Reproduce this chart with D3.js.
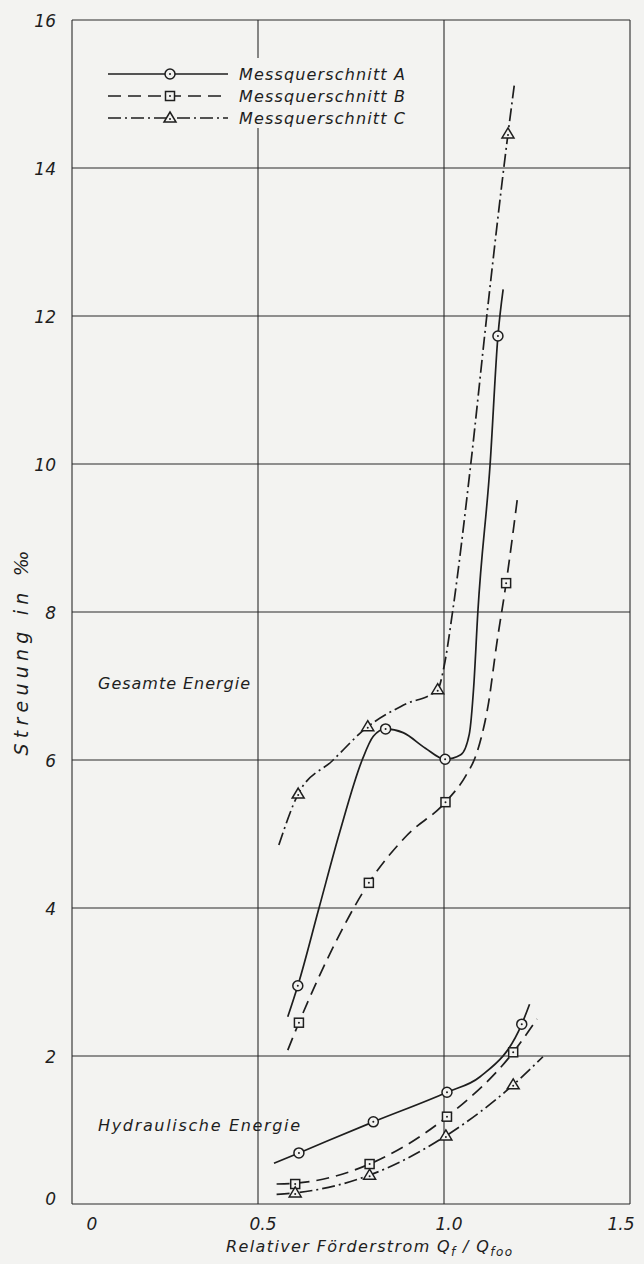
<!DOCTYPE html>
<html>
<head>
<meta charset="utf-8">
<script src="https://cdn.jsdelivr.net/npm/d3@7"></script>
<style>
  html, body { margin: 0; padding: 0; background: #f3f3f1; }
  svg { display: block; }
  text { font-family: "DejaVu Sans", "Liberation Sans", sans-serif; font-style: italic; fill: #1e1e1e; }
</style>
</head>
<body>
<div id="chart"></div>
<script>
// Streuung values (x = Q_f/Q_foo, y = Streuung in ‰)
const xTicks = [0, 0.5, 1.0, 1.5];
const xTickLabels = ["0", "0.5", "1.0", "1.5"];
const yTicks = [0, 2, 4, 6, 8, 10, 12, 14, 16];

// Gesamte Energie - measured points
const gesamtA = [[0.607, 2.95], [0.843, 6.42], [1.003, 6.01], [1.145, 11.73]];
const gesamtB = [[0.61, 2.45], [0.798, 4.34], [1.004, 5.43], [1.167, 8.39]];
const gesamtC = [[0.608, 5.54], [0.795, 6.45], [0.983, 6.95], [1.172, 14.46]];
// Gesamte Energie - traced curves
const gesamtALine = [[0.58, 2.53], [0.607, 2.95], [0.664, 4.0], [0.72, 5.03], [0.78, 6.0], [0.81, 6.32], [0.843, 6.42],
  [0.89, 6.37], [0.95, 6.16], [1.003, 6.01], [1.045, 6.07], [1.068, 6.35], [1.08, 7.0], [1.091, 8.0],
  [1.124, 10.0], [1.145, 11.73], [1.159, 12.36]];
const gesamtBLine = [[0.58, 2.08], [0.61, 2.45], [0.70, 3.45], [0.798, 4.34], [0.90, 4.98], [1.004, 5.43],
  [1.06, 5.80], [1.085, 6.05], [1.10, 6.3], [1.118, 6.72], [1.142, 7.58], [1.167, 8.39], [1.199, 9.6]];
const gesamtCLine = [[0.556, 4.85], [0.608, 5.54], [0.70, 5.99], [0.795, 6.45], [0.89, 6.74], [0.983, 6.95],
  [1.0, 7.26], [1.023, 8.0], [1.072, 10.0], [1.115, 12.0], [1.172, 14.46], [1.19, 15.16]];

// Hydraulische Energie - measured points
const hydA = [[0.61, 0.69], [0.81, 1.11], [1.008, 1.51], [1.209, 2.43]];
const hydB = [[0.60, 0.27], [0.80, 0.54], [1.008, 1.18], [1.186, 2.05]];
const hydC = [[0.60, 0.15], [0.80, 0.39], [1.005, 0.92], [1.186, 1.61]];
// Hydraulische Energie - traced curves
const hydALine = [[0.543, 0.55], [0.61, 0.69], [0.81, 1.11], [1.008, 1.51], [1.097, 1.72], [1.209, 2.43], [1.23, 2.7]];
const hydBLine = [[0.55, 0.27], [0.60, 0.28], [0.80, 0.54], [1.008, 1.18], [1.186, 2.05], [1.25, 2.5]];
const hydCLine = [[0.55, 0.13], [0.60, 0.15], [0.80, 0.39], [1.005, 0.92], [1.186, 1.61], [1.266, 1.99]];

const legendNames = ["Messquerschnitt A", "Messquerschnitt B", "Messquerschnitt C"];

const width = 644, height = 1264;
const bg = "#f3f3f1", ink = "#1e1e1e";

const svg = d3.select("#chart").append("svg")
    .attr("width", width)
    .attr("height", height);

svg.append("rect").attr("width", width).attr("height", height).attr("fill", bg);

const x = d3.scaleLinear().domain([0, 1.5]).range([72, 630]);
const y = d3.scaleLinear().domain([0, 16]).range([1204, 20]);

// grid
const grid = svg.append("g").attr("stroke", "#2a2a2a").attr("stroke-width", 1.1);
grid.selectAll("line.v").data(xTicks).join("line")
    .attr("x1", d => x(d)).attr("x2", d => x(d))
    .attr("y1", y(0)).attr("y2", y(16));
grid.selectAll("line.h").data(yTicks).join("line")
    .attr("x1", x(0)).attr("x2", x(1.5))
    .attr("y1", d => y(d)).attr("y2", d => y(d));

// tick labels
svg.append("g").selectAll("text").data(yTicks).join("text")
    .attr("x", 56)
    .attr("y", d => y(d) + (d === 0 ? -4 : 2))
    .attr("text-anchor", "end")
    .attr("dominant-baseline", "middle")
    .attr("font-size", 17)
    .text(d => d);

svg.append("g").selectAll("text").data(xTicks).join("text")
    .attr("x", (d, i) => x(d) + (i === 0 ? 20 : i === 3 ? -9 : 5))
    .attr("y", 1230)
    .attr("text-anchor", "middle")
    .attr("font-size", 17)
    .text((d, i) => xTickLabels[i]);

// axis titles
const xt = svg.append("text")
    .attr("x", 226)
    .attr("y", 1252)
    .attr("font-size", 16)
    .attr("textLength", 286)
    .attr("lengthAdjust", "spacing");
xt.append("tspan").text("Relativer Förderstrom  Q");
xt.append("tspan").attr("font-size", 12).attr("dy", 4).text("f");
xt.append("tspan").attr("dy", -4).text(" / Q");
xt.append("tspan").attr("font-size", 12).attr("dy", 4).text("foo");

svg.append("text")
    .attr("transform", "translate(28, 653) rotate(-90)")
    .attr("text-anchor", "middle")
    .attr("font-size", 19)
    .attr("textLength", 205)
    .attr("lengthAdjust", "spacing")
    .text("Streuung  in  ‰");

// area labels
svg.append("text").attr("x", 98).attr("y", 689).attr("font-size", 16)
    .attr("textLength", 152).attr("lengthAdjust", "spacing").text("Gesamte  Energie");
svg.append("text").attr("x", 98).attr("y", 1131).attr("font-size", 16)
    .attr("textLength", 202).attr("lengthAdjust", "spacing").text("Hydraulische  Energie");

// series styles
const dashes = [null, "13,7", "13,4,2,4"];

const line = d3.line()
    .x(d => x(d[0]))
    .y(d => y(d[1]))
    .curve(d3.curveMonotoneX);

const curves = [gesamtALine, gesamtBLine, gesamtCLine, hydALine, hydBLine, hydCLine];
const curveStyle = [0, 1, 2, 0, 1, 2];

svg.append("g").selectAll("path").data(curves).join("path")
    .attr("d", d => line(d))
    .attr("fill", "none")
    .attr("stroke", ink)
    .attr("stroke-width", 1.7)
    .attr("stroke-dasharray", (d, i) => dashes[curveStyle[i]]);

function drawMarker(g, kind, cx, cy) {
    if (kind === 0) {
        g.append("circle").attr("cx", cx).attr("cy", cy).attr("r", 5)
            .attr("fill", bg).attr("stroke", ink).attr("stroke-width", 1.5);
    } else if (kind === 1) {
        g.append("rect").attr("x", cx - 4.5).attr("y", cy - 4.5).attr("width", 9).attr("height", 9)
            .attr("fill", bg).attr("stroke", ink).attr("stroke-width", 1.5);
    } else {
        g.append("path")
            .attr("d", `M${cx},${cy - 6}L${cx + 6},${cy + 4}L${cx - 6},${cy + 4}Z`)
            .attr("fill", bg).attr("stroke", ink).attr("stroke-width", 1.5);
    }
    g.append("circle").attr("cx", cx).attr("cy", kind === 2 ? cy + 1 : cy).attr("r", 1).attr("fill", ink);
}

const markerSets = [gesamtA, gesamtB, gesamtC, hydA, hydB, hydC];
const mg = svg.append("g");
markerSets.forEach((pts, i) => {
    pts.forEach(p => drawMarker(mg, curveStyle[i], x(p[0]), y(p[1])));
});

// legend (the grid line at 0.5 is blanked out behind the text)
const legend = svg.append("g");
legend.append("rect").attr("x", 236).attr("y", 58).attr("width", 175).attr("height", 70).attr("fill", bg);
const legendRows = [74, 96, 118];
legendNames.forEach((name, i) => {
    const ly = legendRows[i];
    legend.append("line")
        .attr("x1", 108).attr("x2", 228).attr("y1", ly).attr("y2", ly)
        .attr("stroke", ink).attr("stroke-width", 1.6)
        .attr("stroke-dasharray", dashes[i]);
    drawMarker(legend, i, 170, ly);
    legend.append("text")
        .attr("x", 239).attr("y", ly + 6)
        .attr("font-size", 16)
        .attr("textLength", 166).attr("lengthAdjust", "spacing")
        .text(name);
});
</script>
</body>
</html>
